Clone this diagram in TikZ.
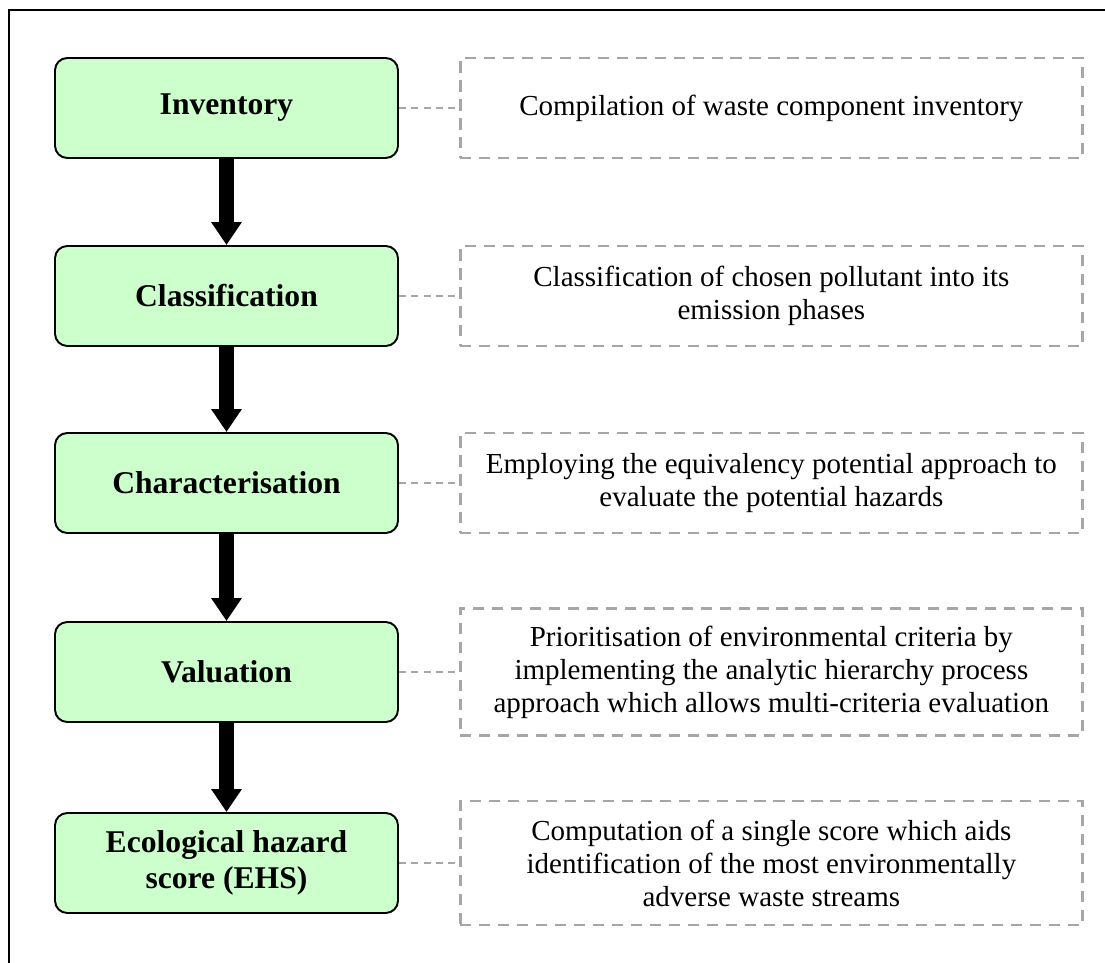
\documentclass[tikz,border=0pt]{standalone}
\usepackage{fontspec}
\setmainfont{Liberation Serif}
\usetikzlibrary{positioning,arrows.meta}

\definecolor{stagegreen}{HTML}{CCFFCC}
\definecolor{notegray}{HTML}{A6A6A6}

\begin{document}
\begin{tikzpicture}[
  every node/.style={align=center},
  stage/.style ={rectangle, rounded corners=7pt, draw=black, line width=1.1pt,
                 fill=stagegreen, minimum width=68.6mm, minimum height=20mm,
                 font=\fontsize{18}{20.5}\selectfont\bfseries},
  note/.style  ={rectangle, draw=notegray, line width=1.6pt,
                 dash pattern=on 6.3pt off 4.5pt, minimum width=124.4mm,
                 minimum height=20mm, font=\fontsize{16.5}{18.8}\selectfont},
  flow/.style  ={-{Triangle[width=16.5pt,length=13pt]}, line width=8.5pt, draw=black},
  link/.style  ={draw=notegray, line width=1.1pt, dash pattern=on 4pt off 3pt},
]
\useasboundingbox (0,0) rectangle (22.1,-19.26);

% Frame (top and left edges)
\draw[line width=1.7pt] (0.18,-19.26) -- (0.18,-0.2) -- (22.1,-0.2);

% Stages, top to bottom
\node[stage] (inv)  at (4.53,-2.16)  {Inventory};
\node[stage] (cls)  at (4.53,-5.92)  {Classification};
\node[stage] (chr)  at (4.53,-9.66)  {Characterisation};
\node[stage] (val)  at (4.53,-13.44) {Valuation};
\node[stage] (ehs)  at (4.53,-17.26) {Ecological hazard\\score (EHS)};

% Notes beside each stage
\node[note, right=12mm of inv] (ninv) {Compilation of waste component inventory};
\node[note, right=12mm of cls] (ncls) {Classification of chosen pollutant into its\\emission phases};
\node[note, right=12mm of chr] (nchr) {Employing the equivalency potential approach to\\evaluate the potential hazards};
\node[note, right=12mm of val, minimum height=25.4mm] (nval)
  {Prioritisation of environmental criteria by\\implementing the analytic hierarchy process\\approach which allows multi-criteria evaluation};
\node[note, right=12mm of ehs, minimum height=24.8mm] (nehs)
  {Computation of a single score which aids\\identification of the most environmentally\\adverse waste streams};

% Main flow
\draw[flow] (inv) -- (cls);
\draw[flow] (cls) -- (chr);
\draw[flow] (chr) -- (val);
\draw[flow] (val) -- (ehs);

% Dashed links to notes
\draw[link] (inv) -- (ninv);
\draw[link] (cls) -- (ncls);
\draw[link] (chr) -- (nchr);
\draw[link] (val) -- (nval);
\draw[link] (ehs) -- (nehs);

\end{tikzpicture}
\end{document}
